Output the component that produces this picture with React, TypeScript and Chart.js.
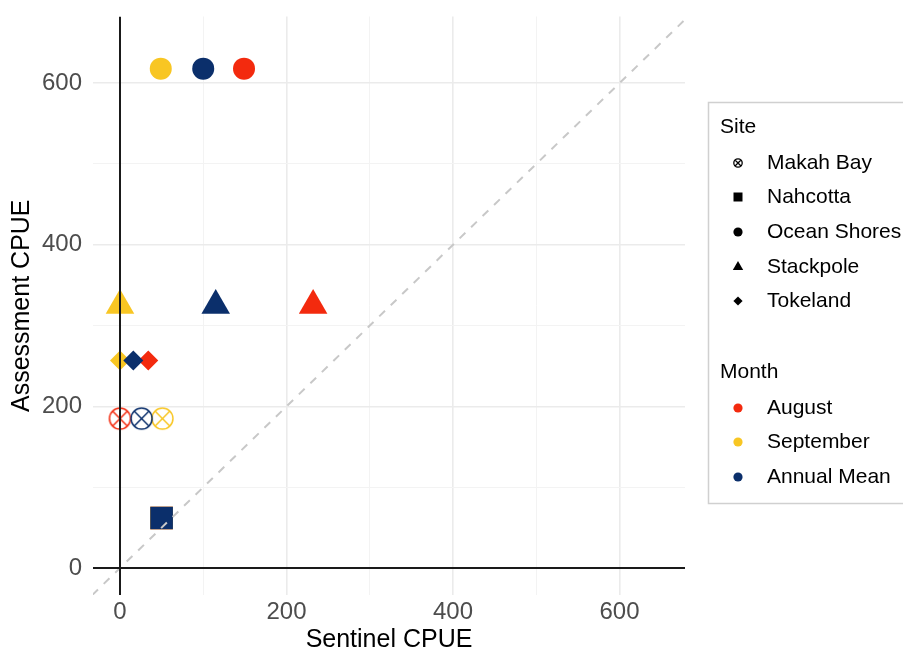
import { useEffect, useRef } from 'react';
import { Chart, registerables } from 'chart.js';

Chart.register(...registerables);

// ---- data ----
const sites = ['Makah Bay', 'Nahcotta', 'Ocean Shores', 'Stackpole', 'Tokeland'];
const months = ['August', 'September', 'Annual Mean'];
const monthColors = ['#F32A0E', '#F8C623', '#0B2F6B'];
const assessmentCPUE = [185, 62, 618, 325, 257];
const sentinelAugust = [0, 50, 149, 232, 34];
const sentinelSeptember = [51, 50, 49, 0, 0];
const sentinelAnnualMean = [26, 50, 100, 115, 16];
const gridValues = [0, 100, 200, 300, 400, 500, 600];
const labelledTicks = [0, 200, 400, 600];
const xRange = [-32.4, 678.7];
const yRange = [-33.3, 682.5];

const FONT = '"Liberation Sans", Arial, Helvetica, sans-serif';

function makeCrossCircle(color: string, r: number, lw: number) {
  const size = Math.ceil(2 * r + lw + 4);
  const c = document.createElement('canvas');
  c.width = size;
  c.height = size;
  const g = c.getContext('2d')!;
  const cx = size / 2;
  g.strokeStyle = color;
  g.lineWidth = lw;
  g.beginPath();
  g.arc(cx, cx, r, 0, Math.PI * 2);
  g.stroke();
  const d = r * Math.SQRT1_2;
  g.beginPath();
  g.moveTo(cx - d, cx - d);
  g.lineTo(cx + d, cx + d);
  g.moveTo(cx + d, cx - d);
  g.lineTo(cx - d, cx + d);
  g.stroke();
  return c;
}

const refLines = {
  id: 'refLines',
  afterDatasetsDraw(chart: any) {
    const { ctx, chartArea, scales } = chart;
    const { left, right, top, bottom } = chartArea;
    const x = scales.x;
    const y = scales.y;
    ctx.save();
    ctx.beginPath();
    ctx.rect(left, top, right - left, bottom - top);
    ctx.clip();
    // y = x dashed line
    const v0 = Math.min(x.min, y.min);
    const v1 = Math.max(x.max, y.max);
    ctx.strokeStyle = '#C8C8C8';
    ctx.lineWidth = 2;
    ctx.setLineDash([8, 8]);
    ctx.beginPath();
    ctx.moveTo(x.getPixelForValue(v0), y.getPixelForValue(v0));
    ctx.lineTo(x.getPixelForValue(v1), y.getPixelForValue(v1));
    ctx.stroke();
    ctx.setLineDash([]);
    // zero lines
    ctx.strokeStyle = '#1A1A1A';
    ctx.lineWidth = 2;
    const px = x.getPixelForValue(0);
    const py = y.getPixelForValue(0);
    ctx.beginPath();
    ctx.moveTo(px, top);
    ctx.lineTo(px, bottom);
    ctx.moveTo(left, py);
    ctx.lineTo(right, py);
    ctx.stroke();
    ctx.restore();
  },
};

function drawMarker(ctx: CanvasRenderingContext2D, shape: string, x: number, y: number, color: string) {
  ctx.fillStyle = color;
  ctx.strokeStyle = color;
  ctx.beginPath();
  if (shape === 'crossCircle') {
    const r = 4.2;
    ctx.lineWidth = 1.3;
    ctx.arc(x, y, r, 0, Math.PI * 2);
    const d = r * Math.SQRT1_2;
    ctx.moveTo(x - d, y - d);
    ctx.lineTo(x + d, y + d);
    ctx.moveTo(x + d, y - d);
    ctx.lineTo(x - d, y + d);
    ctx.stroke();
    return;
  }
  if (shape === 'rect') {
    ctx.rect(x - 4.5, y - 4.5, 9, 9);
  } else if (shape === 'circle') {
    ctx.arc(x, y, 4.6, 0, Math.PI * 2);
  } else if (shape === 'triangle') {
    const r = 6;
    ctx.moveTo(x, y - r);
    ctx.lineTo(x + r * 0.866, y + r * 0.5);
    ctx.lineTo(x - r * 0.866, y + r * 0.5);
    ctx.closePath();
  } else if (shape === 'diamond') {
    const r = 4.6;
    ctx.moveTo(x - r, y);
    ctx.lineTo(x, y - r);
    ctx.lineTo(x + r, y);
    ctx.lineTo(x, y + r);
    ctx.closePath();
  }
  ctx.fill();
}

const siteLegendShapes = ['crossCircle', 'rect', 'circle', 'triangle', 'diamond'];

const legendPlugin = {
  id: 'customLegend',
  afterDraw(chart: any) {
    const ctx: CanvasRenderingContext2D = chart.ctx;
    ctx.save();
    ctx.strokeStyle = '#D0D0D0';
    ctx.lineWidth = 1.5;
    ctx.strokeRect(708.5, 102.5, 210, 401);
    ctx.textBaseline = 'middle';
    ctx.textAlign = 'left';
    ctx.fillStyle = '#000';
    ctx.font = `21px ${FONT}`;
    ctx.fillText('Site', 720, 127);
    const siteY = [163, 197, 232, 267, 301];
    sites.forEach((s, i) => {
      drawMarker(ctx, siteLegendShapes[i], 738, siteY[i], '#000');
      ctx.fillStyle = '#000';
      ctx.fillText(s, 767, siteY[i]);
    });
    ctx.fillText('Month', 720, 372);
    const monthY = [408, 442, 477];
    months.forEach((m, i) => {
      drawMarker(ctx, 'circle', 738, monthY[i], monthColors[i]);
      ctx.fillStyle = '#000';
      ctx.fillText(m, 767, monthY[i]);
    });
    ctx.restore();
  },
};

export default function App() {
  const ref = useRef<HTMLCanvasElement>(null);

  useEffect(() => {
    if (!ref.current) return;
    const sentinel = [sentinelAugust, sentinelSeptember, sentinelAnnualMean];
    const crossCircles = monthColors.map((c) => makeCrossCircle(c, 10.5, 1.5));
    const radii = [11, 16, 11, 16.5, 10];

    const gridColor = (ctx: any) => {
      const v = ctx.tick ? ctx.tick.value : 0;
      if (v === 0) return 'rgba(0,0,0,0)';
      return v % 200 === 0 ? '#EBEBEB' : '#F3F3F3';
    };
    const gridWidth = (ctx: any) => {
      const v = ctx.tick ? ctx.tick.value : 0;
      return v % 200 === 0 ? 1.6 : 1;
    };

    const chart = new Chart(ref.current, {
      type: 'scatter',
      data: {
        datasets: months.map((m, i) => ({
          label: m,
          data: sites.map((_, j) => ({ x: sentinel[i][j], y: assessmentCPUE[j] })),
          pointStyle: [crossCircles[i], 'rect', 'circle', 'triangle', 'rectRot'] as any,
          pointRadius: radii,
          pointHoverRadius: radii,
          backgroundColor: monthColors[i],
          borderColor: monthColors[i],
          borderWidth: 0,
          order: 2 - i,
        })),
      },
      plugins: [refLines, legendPlugin],
      options: {
        animation: false,
        responsive: false,
        devicePixelRatio: 1,
        layout: { padding: { top: 13, right: 218, bottom: 0, left: 0 } },
        plugins: {
          legend: { display: false },
          tooltip: { enabled: false },
        },
        scales: {
          x: {
            type: 'linear',
            min: xRange[0],
            max: xRange[1],
            afterBuildTicks: (s: any) => {
              s.ticks = gridValues.map((v) => ({ value: v }));
            },
            afterFit: (s: any) => {
              s.height = 58;
              s.paddingLeft = 0;
              s.paddingRight = 0;
            },
            ticks: {
              autoSkip: false,
              maxRotation: 0,
              padding: 3,
              color: '#4D4D4D',
              font: { family: FONT, size: 24 },
              callback: (v: any) => (labelledTicks.includes(v) ? String(v) : ''),
            },
            grid: { color: gridColor, lineWidth: gridWidth, drawTicks: false },
            border: { display: false },
            title: {
              display: true,
              text: 'Sentinel CPUE',
              color: '#000',
              font: { family: FONT, size: 25, lineHeight: 1.0 },
              padding: { top: 0, bottom: 0 },
            },
          },
          y: {
            type: 'linear',
            min: yRange[0],
            max: yRange[1],
            afterBuildTicks: (s: any) => {
              s.ticks = gridValues.map((v) => ({ value: v }));
            },
            afterFit: (s: any) => {
              s.width = 93;
              s.paddingTop = 0;
              s.paddingBottom = 0;
            },
            ticks: {
              autoSkip: false,
              padding: 11,
              color: '#4D4D4D',
              font: { family: FONT, size: 24 },
              callback: (v: any) => (labelledTicks.includes(v) ? String(v) : ''),
            },
            grid: { color: gridColor, lineWidth: gridWidth, drawTicks: false },
            border: { display: false },
            title: {
              display: true,
              text: 'Assessment CPUE',
              color: '#000',
              font: { family: FONT, size: 25 },
              padding: { top: 7, bottom: 0 },
            },
          },
        },
      },
    });
    return () => chart.destroy();
  }, []);

  return (
    <div style={{ position: 'absolute', left: 0, top: 0, width: 903, height: 653, background: '#fff' }}>
      <canvas ref={ref} width={903} height={653} style={{ display: 'block' }} />
    </div>
  );
}
